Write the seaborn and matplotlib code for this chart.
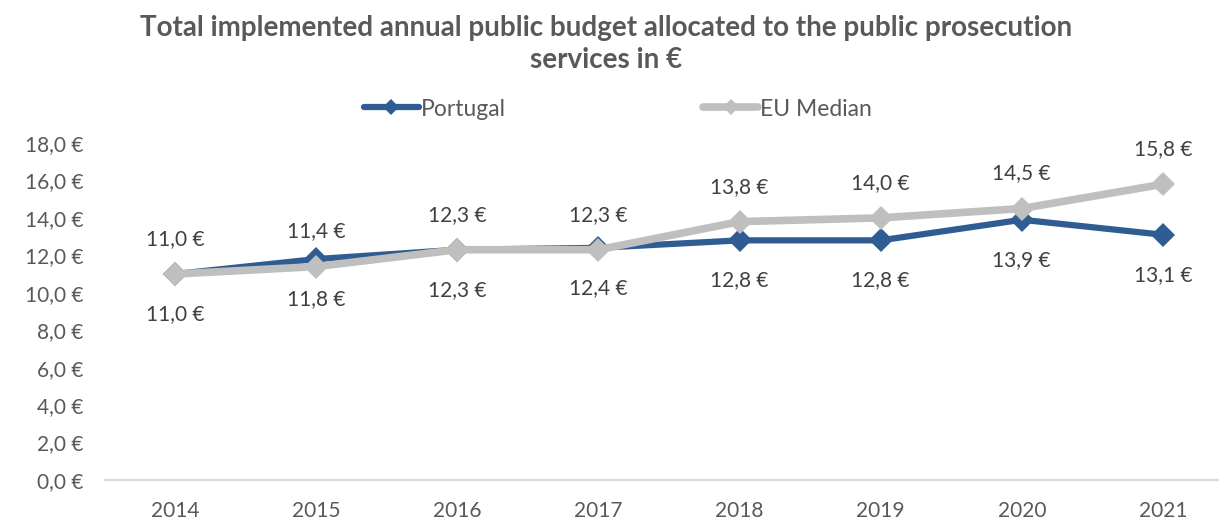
import pandas as pd
import matplotlib.pyplot as plt
import seaborn as sns

# dados do gráfico
anos = ["2014", "2015", "2016", "2017", "2018", "2019", "2020", "2021"]
portugal = [11.0, 11.8, 12.3, 12.4, 12.8, 12.8, 13.9, 13.1]
eu_median = [11.0, 11.4, 12.3, 12.3, 13.8, 14.0, 14.5, 15.8]
series = ["Portugal", "EU Median"]
cores = {"Portugal": "#2F5D93", "EU Median": "#BFBFBF"}

df = pd.DataFrame({
    "pos": list(range(len(anos))) * 2,
    "valor": portugal + eu_median,
    "serie": [series[0]] * len(anos) + [series[1]] * len(anos),
})

sns.set_style("white")
plt.rcParams["font.family"] = ["Lato", "DejaVu Sans"]
texto = "#595959"

fig = plt.figure(figsize=(12.19, 5.28), dpi=100)
ax = fig.add_axes([104.5 / 1219, 48 / 528, 1129 / 1219, 337 / 528])

for s in series:
    d = df[df["serie"] == s]
    sns.lineplot(data=d, x="pos", y="valor", ax=ax, color=cores[s],
                 linewidth=4.5 if s == "Portugal" else 5.5,
                 marker="D", markersize=12, markeredgewidth=0,
                 label=s, zorder=3 if s == "Portugal" else 4)

# rótulos de dados
for i, v in enumerate(eu_median):
    ax.annotate(f"{v:.1f} €".replace(".", ","), (i, v), xytext=(0, 35),
                textcoords="offset pixels", ha="center", va="center",
                fontsize=15, color="#404040")
for i, v in enumerate(portugal):
    ax.annotate(f"{v:.1f} €".replace(".", ","), (i, v), xytext=(0, -40),
                textcoords="offset pixels", ha="center", va="center",
                fontsize=15, color="#404040")

ax.set_xlim(-0.5, len(anos) - 0.5)
ax.set_ylim(0, 18)
ax.set_xticks(range(len(anos)))
ax.set_xticklabels(anos)
ax.set_yticks(range(0, 19, 2))
ax.set_yticklabels([f"{t:.1f} €".replace(".", ",") for t in range(0, 19, 2)])
ax.tick_params(axis="both", labelsize=15, labelcolor=texto, length=0)
ax.tick_params(axis="x", pad=15)
ax.tick_params(axis="y", pad=15)
ax.set_xlabel("")
ax.set_ylabel("")
for lado in ["top", "right", "left"]:
    ax.spines[lado].set_visible(False)
ax.spines["bottom"].set_color("#D9D9D9")
ax.spines["bottom"].set_linewidth(1.5)

leg = ax.legend(loc="center", ncol=2, frameon=False, fontsize=16.5,
                columnspacing=8.6, handlelength=2.4, handletextpad=0.1,
                markerscale=0.7)
leg.set_bbox_to_anchor((618 / 1219, 1 - 109 / 528), transform=fig.transFigure)
for t in leg.get_texts():
    t.set_color(texto)

fig.text(0.497, 1 - 44 / 528,
         "Total implemented annual public budget allocated to the public prosecution\nservices in €",
         ha="center", va="center", fontsize=20, fontweight="bold", color=texto,
         linespacing=1.25)

plt.savefig("out.png", dpi=100)
